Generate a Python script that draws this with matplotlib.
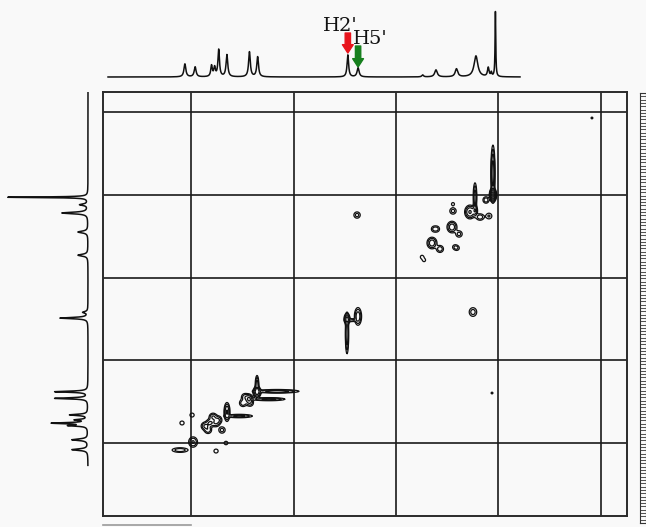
import numpy as np
import matplotlib
matplotlib.use('Agg')
import matplotlib.pyplot as plt
from matplotlib.patches import FancyArrowPatch
from matplotlib.lines import Line2D

# ---------------- data (ppm) ----------------
# 1D projection along F2 (top): position, height, half-width
top_ppm = [5.06, 4.96, 4.80, 4.77, 4.73, 4.65, 4.43, 4.35, 3.47, 3.37,
           2.74, 2.61, 2.41, 2.22, 2.10, 2.07, 2.03]
top_int = [13, 10, 11, 9, 27, 22, 25, 20, 22, 9,
           2, 7, 8, 21, 9, 4, 65]
top_hw = [0.011, 0.011, 0.009, 0.009, 0.009, 0.010, 0.010, 0.010, 0.009, 0.012,
          0.010, 0.015, 0.015, 0.022, 0.009, 0.006, 0.004]

# 1D projection along F1 (left)
left_ppm = [2.03, 2.12, 2.22, 2.45, 2.73, 3.42, 3.49, 4.38, 4.46, 4.66,
            4.72, 4.76, 4.79, 4.96, 5.08]
left_int = [80, 8, 26, 10, 10, 5, 28, 33, 33, 18,
            12, 35, 18, 16, 16]
left_hw = [0.005, 0.011, 0.011, 0.013, 0.013, 0.011, 0.009, 0.008, 0.008, 0.009,
           0.008, 0.008, 0.008, 0.011, 0.011]

# 2D cross/diagonal peaks: F2, F1, amplitude, width F2, width F1
pk_f2 = [2.054, 2.054, 2.229, 2.278, 2.229, 2.122, 2.093, 2.180, 2.444, 2.444,
         2.454, 2.385, 2.630, 2.600, 2.649, 2.571, 2.425, 2.405, 2.746, 2.726,
         3.380, 2.249, 1.088, 2.063,
         3.478, 3.478, 3.440, 3.371,
         4.356, 4.434, 4.160, 4.240, 4.356, 4.473, 4.493, 4.424,
         4.649, 4.530, 4.785, 4.737, 4.815, 4.863, 4.834, 4.698, 4.760,
         4.990, 5.088, 4.980, 5.107, 4.756, 4.659]
pk_f1 = [2.003, 1.740, 2.030, 2.208, 2.190, 2.063, 2.257, 2.269, 2.112, 2.196,
         2.390, 2.474, 2.414, 2.414, 2.583, 2.655, 2.631, 2.645, 2.752, 2.790,
         2.245, 3.417, 1.072, 4.396,
         3.500, 3.680, 3.515, 3.470,
         4.384, 4.468, 4.375, 4.470, 4.300, 4.444, 4.517, 4.517,
         4.625, 4.674, 4.686, 4.722, 4.758, 4.795, 4.843, 4.843, 4.760,
         4.662, 4.758, 4.988, 5.085, 5.097, 5.000]
pk_amp = [20, 6, 3, 4, 3, 1.5, 1.0, 1.5, 0.7, 1.2,
          3, 1.2, 1.0, 1.0, 3, 1.5, 0.8, 0.8, 0.8, 0.7,
          1.2, 1.3, 0.6, 0.6,
          4, 3.5, 1.5, 3,
          5, 4, 3, 2.5, 3, 1.5, 1.5, 1.2,
          4, 2.5, 2, 2, 2, 2, 1.5, 1.2, 1.5,
          0.8, 0.8, 2.0, 1.5, 0.8, 0.7]
pk_wx = [0.013, 0.009, 0.009, 0.025, 0.012, 0.019, 0.022, 0.025, 0.015, 0.022,
         0.025, 0.022, 0.019, 0.019, 0.025, 0.022, 0.019, 0.019, 0.015, 0.015,
         0.022, 0.025, 0.012, 0.012,
         0.014, 0.008, 0.030, 0.018,
         0.018, 0.018, 0.110, 0.085, 0.009, 0.022, 0.022, 0.022,
         0.014, 0.070, 0.022, 0.022, 0.022, 0.022, 0.022, 0.022, 0.022,
         0.019, 0.019, 0.025, 0.050, 0.019, 0.019]
pk_wy = [0.032, 0.150, 0.090, 0.040, 0.030, 0.025, 0.027, 0.025, 0.019, 0.027,
         0.036, 0.027, 0.025, 0.025, 0.036, 0.027, 0.022, 0.022, 0.019, 0.019,
         0.027, 0.036, 0.014, 0.014,
         0.032, 0.120, 0.011, 0.055,
         0.032, 0.028, 0.011, 0.010, 0.060, 0.027, 0.027, 0.027,
         0.055, 0.011, 0.027, 0.027, 0.027, 0.027, 0.027, 0.027, 0.027,
         0.022, 0.022, 0.036, 0.018, 0.022, 0.022]

grid_ppm = [5, 4, 3, 2, 1]
labels = ["H2'", "H5'"]
label_ppm = [3.47, 3.37]
arrow_colors = ['#e8141c', '#17801e']

# ---------------- layout ----------------
W, H = 646, 527
BG = '#f9f9f9'
fig = plt.figure(figsize=(W / 100, H / 100), dpi=100)
fig.patch.set_facecolor(BG)


def rect(l, t, r, b):
    return [l / W, 1 - b / H, (r - l) / W, (b - t) / H]


XLIM = (5.859, 0.746)
YLIM = (5.882, 0.758)

# main 2D axes
ax = fig.add_axes(rect(103, 92, 627, 516))
ax.set_facecolor(BG)
ax.set_xlim(*XLIM)
ax.set_ylim(*YLIM)
ax.set_xticks(grid_ppm)
ax.set_yticks(grid_ppm)
ax.tick_params(length=0, labelbottom=False, labelleft=False)
ax.grid(True, color='#1a1a1a', lw=1.2)
for s in ax.spines.values():
    s.set_color('#2a2a2a')
    s.set_linewidth(1.4)

xg = np.linspace(XLIM[1], XLIM[0], 900)
yg = np.linspace(YLIM[1], YLIM[0], 800)
XX, YY = np.meshgrid(xg, yg)
Z = np.zeros_like(XX)
for x0, y0, a, wx, wy in zip(pk_f2, pk_f1, pk_amp, pk_wx, pk_wy):
    Z += a * np.exp(-((XX - x0) ** 2 / (2 * wx ** 2) + (YY - y0) ** 2 / (2 * wy ** 2)))
levels = [0.45, 0.9, 1.8, 3.6, 7.2, 14.4]
ax.contour(XX, YY, Z, levels=levels, colors='#111111', linewidths=0.9)

# top 1D spectrum
axt = fig.add_axes(rect(103, 0, 627, 80))
axt.set_xlim(*XLIM)
axt.set_ylim(-3, 77)
axt.axis('off')
xs = np.linspace(5.81, 1.79, 6000)
spec = np.zeros_like(xs)
for p, h, w in zip(top_ppm, top_int, top_hw):
    spec += h * w ** 2 / ((xs - p) ** 2 + w ** 2)
axt.plot(xs, spec, color='#111111', lw=1.1)

# labels and arrows
arrow_tip = [24, 10]
arrow_tail = [44, 31]
text_y = [46, 33]
text_dx = [0.075, -0.115]
for lab, p, c, tip, tail, ty, dx in zip(labels, label_ppm, arrow_colors,
                                        arrow_tip, arrow_tail, text_y, text_dx):
    arr = FancyArrowPatch((p, tail), (p, tip),
                          arrowstyle='simple,head_length=0.5,head_width=0.65,tail_width=0.32',
                          mutation_scale=12, color=c, shrinkA=0, shrinkB=0)
    axt.add_patch(arr)
    axt.text(p + dx, ty, lab, ha='center', va='baseline',
             fontsize=14, family='DejaVu Serif', color='#111111')

# left 1D spectrum
axl = fig.add_axes(rect(0, 92, 103, 516))
axl.set_ylim(*YLIM)
axl.set_xlim(88, -15)
axl.axis('off')
ys = np.linspace(0.75, 5.27, 6000)
lspec = np.zeros_like(ys)
for p, h, w in zip(left_ppm, left_int, left_hw):
    lspec += h * w ** 2 / ((ys - p) ** 2 + w ** 2)
axl.plot(lspec, ys, color='#111111', lw=1.1)

# right ruler
axr = fig.add_axes(rect(640, 93, 646, 523))
axr.set_facecolor(BG)
axr.set_ylim(0, 130)
axr.set_xlim(0, 1)
axr.set_yticks(np.arange(0, 131, 1))
axr.set_xticks([])
axr.tick_params(axis='y', direction='in', length=4.3, width=0.6, labelleft=False, color='#333333')
for s in axr.spines.values():
    s.set_color('#333333')
    s.set_linewidth(0.8)

# faint scan edge at the bottom
fig.add_artist(Line2D([103 / W, 191 / W], [1 - 525 / H, 1 - 525 / H], color='#9a9a9a', lw=1.2))

fig.savefig('out.png', dpi=100, facecolor=BG)
